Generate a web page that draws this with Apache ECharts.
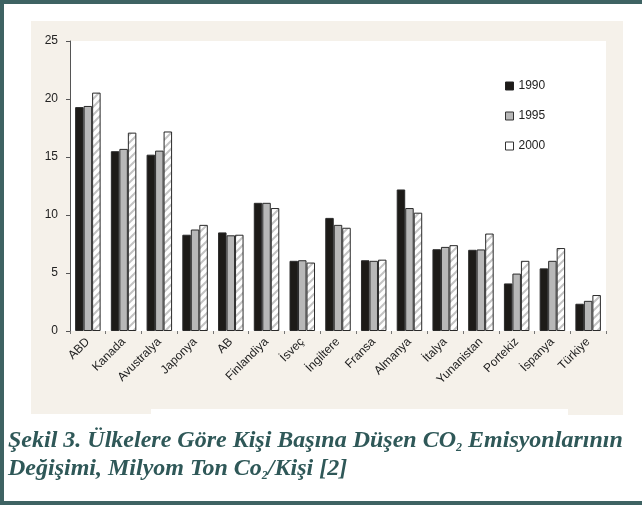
<!DOCTYPE html>
<html>
<head>
<meta charset="utf-8">
<script src="https://cdn.jsdelivr.net/npm/echarts@6/dist/echarts.min.js"></script>
<style>
  html, body { margin: 0; padding: 0; background: #ffffff; }
  #chart { width: 642px; height: 505px; }
</style>
</head>
<body>
<div id="chart"></div>
<script>
// Per-capita CO2 emissions by country (ton / person)
const countries = ['ABD', 'Kanada', 'Avustralya', 'Japonya', 'AB', 'Finlandiya', 'İsveç', 'İngiltere',
  'Fransa', 'Almanya', 'İtalya', 'Yunanistan', 'Portekiz', 'İspanya', 'Türkiye'];
const years = ['1990', '1995', '2000'];
const values1990 = [19.3, 15.5, 15.2, 8.3, 8.5, 11.05, 6.05, 9.75, 6.1, 12.2, 7.05, 7.0, 4.1, 5.4, 2.35];
const values1995 = [19.4, 15.7, 15.55, 8.75, 8.25, 11.05, 6.1, 9.15, 6.05, 10.6, 7.25, 7.03, 4.95, 6.05, 2.6];
const values2000 = [20.55, 17.1, 17.2, 9.15, 8.3, 10.6, 5.9, 8.9, 6.15, 10.2, 7.4, 8.4, 6.05, 7.15, 3.1];
const yTicks = [0, 5, 10, 15, 20, 25];

// diagonal hatch fill for the last series
function hatchPattern() {
  const c = document.createElement('canvas');
  c.width = 8; c.height = 8;
  const g = c.getContext('2d');
  g.fillStyle = '#ffffff';
  g.fillRect(0, 0, 8, 8);
  g.strokeStyle = '#c4c4c4';
  g.lineWidth = 2;
  g.beginPath();
  g.moveTo(0, 8); g.lineTo(8, 0);
  g.moveTo(-2, 2); g.lineTo(2, -2);
  g.moveTo(6, 10); g.lineTo(10, 6);
  g.stroke();
  return c;
}

const chart = echarts.init(document.getElementById('chart'), null, { renderer: 'canvas' });
const captionColor = '#2f5858';
const fills = ['#1d1b18', '#b8b8b8', { image: hatchPattern(), repeat: 'repeat' }];
const seriesValues = [values1990, values1995, values2000];
const capFont = { fontFamily: 'Liberation Serif', fontStyle: 'italic', fontWeight: 'bold', fill: captionColor, lineHeight: 28 };

chart.setOption({
  animation: false,
  backgroundColor: '#ffffff',
  graphic: [
    // frame
    { type: 'rect', shape: { x: 0, y: 0, width: 642, height: 4 }, style: { fill: '#3e6363' }, z: -10 },
    { type: 'rect', shape: { x: 0, y: 0, width: 4, height: 505 }, style: { fill: '#3e6363' }, z: -10 },
    { type: 'rect', shape: { x: 0, y: 501, width: 642, height: 4 }, style: { fill: '#3e6363' }, z: -10 },
    // panel
    { type: 'rect', shape: { x: 31, y: 21, width: 592, height: 388 }, style: { fill: '#f5f1ea' }, z: -10 },
    { type: 'rect', shape: { x: 31, y: 409, width: 120, height: 5 }, style: { fill: '#f5f1ea' }, z: -10 },
    { type: 'rect', shape: { x: 568, y: 409, width: 55, height: 6 }, style: { fill: '#f5f1ea' }, z: -10 },
    // caption
    {
      type: 'text', left: 8, top: 428,
      style: {
        text: '{t|Şekil 3. Ülkelere Göre Kişi Başına Düşen CO}{s|2}{t| Emisyonlarının}\n{t|Değişimi, Milyom Ton Co}{s|2}{t|/Kişi [2]}',
        rich: {
          t: Object.assign({ fontSize: 24 }, capFont),
          s: Object.assign({ fontSize: 12, padding: [14, 0, 0, 0] }, capFont)
        }
      }
    }
  ],
  grid: {
    left: 70, right: 36, top: 41, bottom: 174,
    show: true, backgroundColor: '#ffffff', borderWidth: 0
  },
  legend: {
    orient: 'vertical',
    left: 500, top: 75,
    itemWidth: 8, itemHeight: 8, itemGap: 18,
    icon: 'rect',
    textStyle: { fontFamily: 'Liberation Sans', fontSize: 12, color: '#222' },
    data: [
      { name: '1990', itemStyle: { color: '#1d1b18', borderColor: '#222', borderWidth: 1 } },
      { name: '1995', itemStyle: { color: '#b8b8b8', borderColor: '#333', borderWidth: 1 } },
      { name: '2000', itemStyle: { color: '#ffffff', borderColor: '#333', borderWidth: 1 } }
    ]
  },
  xAxis: {
    type: 'category',
    data: countries,
    axisLine: { show: false },
    axisTick: { show: true, length: 3, lineStyle: { color: '#777' } },
    axisLabel: { rotate: 45, margin: 9, fontFamily: 'Liberation Sans', fontSize: 12, color: '#222' }
  },
  yAxis: {
    type: 'value',
    min: 0, max: 25, interval: 5,
    splitLine: { show: false },
    axisLine: { show: true, lineStyle: { color: '#555' } },
    axisTick: { show: true, length: 4, lineStyle: { color: '#555' } },
    axisLabel: {
      margin: 12, fontFamily: 'Liberation Sans', fontSize: 12, color: '#222',
      formatter: v => (yTicks.includes(v) ? String(v) : '')
    }
  },
  series: years.map((y, i) => ({
    name: y,
    type: 'bar',
    barWidth: 8.5,
    barGap: '0%',
    data: seriesValues[i],
    itemStyle: { color: fills[i], borderColor: '#2a2a2a', borderWidth: 1 }
  }))
});
</script>
</body>
</html>
